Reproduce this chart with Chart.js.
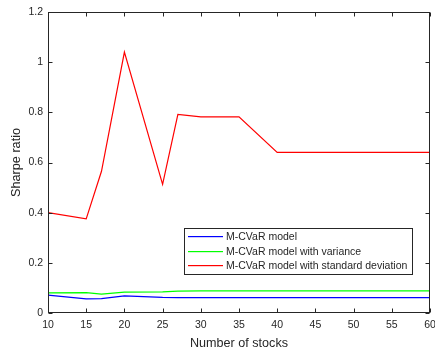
<!DOCTYPE html>
<html>
<head>
<meta charset="utf-8">
<script src="https://cdn.jsdelivr.net/npm/chart.js@4"></script>
<style>
  html, body { margin: 0; padding: 0; background: #fff; }
  #wrap { width: 435px; height: 355px; }
</style>
</head>
<body>
<div id="wrap"><canvas id="c" width="435" height="355"></canvas></div>
<script>
// Number of stocks in the portfolio
const stocks = [10, 15, 17, 20, 25, 27, 30, 35, 40, 45, 50, 55, 60];

// Sharpe ratio per model
const mcvar       = [0.071, 0.056, 0.057, 0.068, 0.062, 0.061, 0.061, 0.061, 0.061, 0.061, 0.061, 0.061, 0.061];
const mcvarVar    = [0.080, 0.081, 0.075, 0.083, 0.084, 0.087, 0.088, 0.088, 0.088, 0.088, 0.088, 0.088, 0.088];
const mcvarStd    = [0.400, 0.375, 0.565, 1.040, 0.513, 0.792, 0.782, 0.782, 0.640, 0.640, 0.640, 0.640, 0.640];

const seriesNames = ['M-CVaR model', 'M-CVaR model with variance', 'M-CVaR model with standard deviation'];
const seriesColors = ['#0000ff', '#00ff00', '#ff0000'];
const xTicks = [10, 15, 20, 25, 30, 35, 40, 45, 50, 55, 60];
const yTicks = [0, 0.2, 0.4, 0.6, 0.8, 1, 1.2];

const axisColor = '#262626';
const fontFamily = '"Liberation Sans", Arial, Helvetica, sans-serif';

function pts(ys) { return stocks.map((x, i) => ({ x: x, y: ys[i] })); }

// Box around the plot with inward ticks on all four sides, plus boxed legend
const boxPlugin = {
  id: 'boxAxes',
  afterDraw(chart) {
    const { ctx, chartArea: a, scales } = chart;
    const L = Math.round(a.left) + 0.5, R = Math.round(a.right) - 0.5;
    const T = Math.round(a.top) + 0.5, B = Math.round(a.bottom) - 0.5;
    const tl = 4;
    ctx.save();
    ctx.strokeStyle = axisColor;
    ctx.lineWidth = 1;
    ctx.strokeRect(L, T, R - L, B - T);
    ctx.beginPath();
    xTicks.forEach(v => {
      const px = Math.round(scales.x.getPixelForValue(v)) + 0.5;
      ctx.moveTo(px, B); ctx.lineTo(px, B - tl);
      ctx.moveTo(px, T); ctx.lineTo(px, T + tl);
    });
    yTicks.forEach(v => {
      const py = Math.round(scales.y.getPixelForValue(v)) + 0.5;
      ctx.moveTo(L, py); ctx.lineTo(L + tl, py);
      ctx.moveTo(R, py); ctx.lineTo(R - tl, py);
    });
    ctx.stroke();

    // legend
    const lx = 184.5, ly = 228.5, lw = 228, lh = 46;
    ctx.fillStyle = '#ffffff';
    ctx.fillRect(lx, ly, lw, lh);
    ctx.strokeStyle = axisColor;
    ctx.strokeRect(lx, ly, lw, lh);
    ctx.font = '10.5px ' + fontFamily;
    ctx.textBaseline = 'middle';
    ctx.textAlign = 'left';
    const rowY = [236, 251, 265];
    seriesNames.forEach((name, i) => {
      ctx.fillStyle = seriesColors[i];
      ctx.fillRect(188, rowY[i], 35, 1.2);
      ctx.fillStyle = axisColor;
      ctx.fillText(name, 226, rowY[i] + 1);
    });
    ctx.restore();
  }
};

new Chart(document.getElementById('c'), {
  type: 'line',
  data: {
    datasets: seriesNames.map((name, i) => ({
      label: name,
      data: pts([mcvar, mcvarVar, mcvarStd][i]),
      borderColor: seriesColors[i],
      borderWidth: 1.2, pointRadius: 0, tension: 0, fill: false
    }))
  },
  options: {
    responsive: false,
    animation: false,
    events: [],
    layout: { padding: { top: 12, right: 5, left: 0, bottom: 0 } },
    plugins: { legend: { display: false }, tooltip: { enabled: false } },
    scales: {
      x: {
        type: 'linear', min: 10, max: 60,
        afterFit(s) { s.height = 42; s.paddingLeft = 0; s.paddingRight = 0; },
        afterBuildTicks(s) { s.ticks = xTicks.map(v => ({ value: v })); },
        grid: { display: false, drawTicks: false },
        border: { display: false },
        ticks: { color: axisColor, font: { family: fontFamily, size: 10.5 }, padding: 6, maxRotation: 0,
                 callback: v => String(v) },
        title: { display: true, text: 'Number of stocks', color: axisColor,
                 font: { family: fontFamily, size: 12.6 }, padding: { top: 0, bottom: 4 } }
      },
      y: {
        type: 'linear', min: 0, max: 1.2,
        afterFit(s) { s.width = 48; s.paddingTop = 0; s.paddingBottom = 0; },
        afterBuildTicks(s) { s.ticks = yTicks.map(v => ({ value: v })); },
        grid: { display: false, drawTicks: false },
        border: { display: false },
        ticks: { color: axisColor, font: { family: fontFamily, size: 10.5 }, padding: 5,
                 callback: v => String(Math.round(v * 10) / 10) },
        title: { display: true, text: 'Sharpe ratio', color: axisColor,
                 font: { family: fontFamily, size: 12.7 }, padding: { top: 9, bottom: 0 } }
      }
    }
  },
  plugins: [boxPlugin]
});
</script>
</body>
</html>
